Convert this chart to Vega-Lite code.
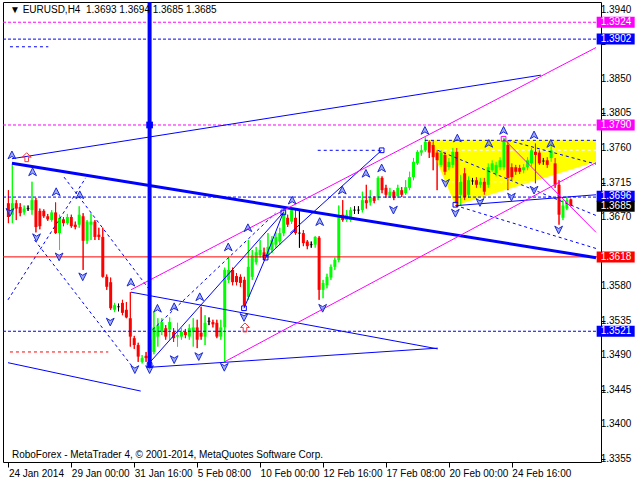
{
"$schema": "https://vega.github.io/schema/vega-lite/v6.json",
"width": 598, "height": 460,
"padding": {"left": 3, "top": 2, "right": 39, "bottom": 18},
"autosize": {"type": "none"},
"background": "white",
"config": {"view": {"stroke": "black", "strokeWidth": 1}, "font": "Liberation Sans"},
"datasets": {
"candles": [
{"i":0,"o":1.3688,"h":1.3705,"l":1.3662,"c":1.3670},{"i":1,"o":1.3673,"h":1.3738,"l":1.3662,"c":1.3688},{"i":2,"o":1.3688,"h":1.3692,"l":1.3666,"c":1.3681},{"i":3,"o":1.3683,"h":1.3688,"l":1.3671,"c":1.3675},{"i":4,"o":1.3676,"h":1.3685,"l":1.3673,"c":1.3681},{"i":5,"o":1.3681,"h":1.3685,"l":1.3678,"c":1.3681},{"i":6,"o":1.3679,"h":1.3716,"l":1.3673,"c":1.3692},{"i":7,"o":1.3692,"h":1.3695,"l":1.3650,"c":1.3657},{"i":8,"o":1.3678,"h":1.3681,"l":1.3654,"c":1.3658},{"i":9,"o":1.3678,"h":1.3680,"l":1.3669,"c":1.3671},
{"i":10,"o":1.3671,"h":1.3674,"l":1.3665,"c":1.3667},{"i":11,"o":1.3666,"h":1.3679,"l":1.3664,"c":1.3676},{"i":12,"o":1.3676,"h":1.3689,"l":1.3648,"c":1.3649},{"i":13,"o":1.3649,"h":1.3673,"l":1.3627,"c":1.3669},{"i":14,"o":1.3667,"h":1.3670,"l":1.3658,"c":1.3662},{"i":15,"o":1.3662,"h":1.3674,"l":1.3660,"c":1.3670},{"i":16,"o":1.3670,"h":1.3673,"l":1.3656,"c":1.3658},{"i":17,"o":1.3660,"h":1.3664,"l":1.3654,"c":1.3657},{"i":18,"o":1.3660,"h":1.3684,"l":1.3656,"c":1.3673},{"i":19,"o":1.3671,"h":1.3675,"l":1.3601,"c":1.3639},
{"i":20,"o":1.3639,"h":1.3666,"l":1.3635,"c":1.3664},{"i":21,"o":1.3660,"h":1.3675,"l":1.3640,"c":1.3664},{"i":22,"o":1.3664,"h":1.3666,"l":1.3640,"c":1.3644},{"i":23,"o":1.3647,"h":1.3656,"l":1.3640,"c":1.3644},{"i":24,"o":1.3644,"h":1.3656,"l":1.3591,"c":1.3592},{"i":25,"o":1.3592,"h":1.3595,"l":1.3575,"c":1.3579},{"i":26,"o":1.3585,"h":1.3591,"l":1.3549,"c":1.3551},{"i":27,"o":1.3549,"h":1.3558,"l":1.3546,"c":1.3555},{"i":28,"o":1.3553,"h":1.3557,"l":1.3547,"c":1.3553},{"i":29,"o":1.3558,"h":1.3562,"l":1.3542,"c":1.3545},
{"i":30,"o":1.3549,"h":1.3559,"l":1.3538,"c":1.3539},{"i":31,"o":1.3538,"h":1.3572,"l":1.3501,"c":1.3514},{"i":32,"o":1.3512,"h":1.3515,"l":1.3498,"c":1.3503},{"i":33,"o":1.3503,"h":1.3506,"l":1.3481,"c":1.3488},{"i":34,"o":1.3481,"h":1.3490,"l":1.3479,"c":1.3486},{"i":35,"o":1.3489,"h":1.3494,"l":1.3481,"c":1.3486},{"i":36,"o":1.3480,"h":1.3512,"l":1.3476,"c":1.3510},{"i":37,"o":1.3494,"h":1.3546,"l":1.3491,"c":1.3526},{"i":38,"o":1.3514,"h":1.3538,"l":1.3501,"c":1.3529},{"i":39,"o":1.3520,"h":1.3538,"l":1.3516,"c":1.3533},
{"i":40,"o":1.3525,"h":1.3529,"l":1.3510,"c":1.3514},{"i":41,"o":1.3523,"h":1.3539,"l":1.3510,"c":1.3533},{"i":42,"o":1.3520,"h":1.3525,"l":1.3507,"c":1.3512},{"i":43,"o":1.3514,"h":1.3532,"l":1.3501,"c":1.3516},{"i":44,"o":1.3514,"h":1.3525,"l":1.3510,"c":1.3520},{"i":45,"o":1.3520,"h":1.3524,"l":1.3512,"c":1.3516},{"i":46,"o":1.3514,"h":1.3530,"l":1.3510,"c":1.3525},{"i":47,"o":1.3520,"h":1.3538,"l":1.3501,"c":1.3526},{"i":48,"o":1.3526,"h":1.3536,"l":1.3499,"c":1.3510},{"i":49,"o":1.3519,"h":1.3553,"l":1.3510,"c":1.3514},
{"i":50,"o":1.3514,"h":1.3542,"l":1.3503,"c":1.3532},{"i":51,"o":1.3534,"h":1.3539,"l":1.3529,"c":1.3534},{"i":52,"o":1.3533,"h":1.3536,"l":1.3526,"c":1.3530},{"i":53,"o":1.3532,"h":1.3536,"l":1.3512,"c":1.3514},{"i":54,"o":1.3514,"h":1.3536,"l":1.3510,"c":1.3526},{"i":55,"o":1.3526,"h":1.3604,"l":1.3481,"c":1.3601},{"i":56,"o":1.3588,"h":1.3617,"l":1.3584,"c":1.3601},{"i":57,"o":1.3601,"h":1.3604,"l":1.3581,"c":1.3585},{"i":58,"o":1.3593,"h":1.3597,"l":1.3581,"c":1.3585},{"i":59,"o":1.3592,"h":1.3595,"l":1.3579,"c":1.3584},
{"i":60,"o":1.3588,"h":1.3592,"l":1.3553,"c":1.3555},{"i":61,"o":1.3566,"h":1.3640,"l":1.3562,"c":1.3605},{"i":62,"o":1.3592,"h":1.3627,"l":1.3588,"c":1.3620},{"i":63,"o":1.3611,"h":1.3631,"l":1.3608,"c":1.3624},{"i":64,"o":1.3620,"h":1.3640,"l":1.3617,"c":1.3627},{"i":65,"o":1.3624,"h":1.3630,"l":1.3614,"c":1.3617},{"i":66,"o":1.3620,"h":1.3649,"l":1.3617,"c":1.3631},{"i":67,"o":1.3627,"h":1.3645,"l":1.3623,"c":1.3640},{"i":68,"o":1.3634,"h":1.3650,"l":1.3630,"c":1.3644},{"i":69,"o":1.3638,"h":1.3656,"l":1.3634,"c":1.3649},
{"i":70,"o":1.3649,"h":1.3681,"l":1.3645,"c":1.3675},{"i":71,"o":1.3669,"h":1.3673,"l":1.3657,"c":1.3660},{"i":72,"o":1.3664,"h":1.3681,"l":1.3661,"c":1.3679},{"i":73,"o":1.3669,"h":1.3679,"l":1.3647,"c":1.3649},{"i":74,"o":1.3649,"h":1.3679,"l":1.3630,"c":1.3649},{"i":75,"o":1.3649,"h":1.3653,"l":1.3632,"c":1.3636},{"i":76,"o":1.3638,"h":1.3640,"l":1.3628,"c":1.3632},{"i":77,"o":1.3634,"h":1.3638,"l":1.3630,"c":1.3634},{"i":78,"o":1.3634,"h":1.3645,"l":1.3630,"c":1.3644},{"i":79,"o":1.3643,"h":1.3645,"l":1.3562,"c":1.3575},
{"i":80,"o":1.3575,"h":1.3588,"l":1.3564,"c":1.3584},{"i":81,"o":1.3581,"h":1.3596,"l":1.3577,"c":1.3592},{"i":82,"o":1.3591,"h":1.3608,"l":1.3588,"c":1.3605},{"i":83,"o":1.3605,"h":1.3617,"l":1.3601,"c":1.3614},{"i":84,"o":1.3614,"h":1.3685,"l":1.3611,"c":1.3670},{"i":85,"o":1.3673,"h":1.3692,"l":1.3664,"c":1.3666},{"i":86,"o":1.3666,"h":1.3679,"l":1.3664,"c":1.3673},{"i":87,"o":1.3666,"h":1.3683,"l":1.3664,"c":1.3679},{"i":88,"o":1.3679,"h":1.3684,"l":1.3674,"c":1.3679},{"i":89,"o":1.3679,"h":1.3684,"l":1.3674,"c":1.3679},
{"i":90,"o":1.3679,"h":1.3703,"l":1.3676,"c":1.3692},{"i":91,"o":1.3692,"h":1.3712,"l":1.3681,"c":1.3688},{"i":92,"o":1.3689,"h":1.3705,"l":1.3685,"c":1.3696},{"i":93,"o":1.3695,"h":1.3697,"l":1.3688,"c":1.3691},{"i":94,"o":1.3695,"h":1.3723,"l":1.3692,"c":1.3721},{"i":95,"o":1.3721,"h":1.3723,"l":1.3701,"c":1.3705},{"i":96,"o":1.3708,"h":1.3712,"l":1.3695,"c":1.3699},{"i":97,"o":1.3697,"h":1.3708,"l":1.3695,"c":1.3703},{"i":98,"o":1.3703,"h":1.3705,"l":1.3692,"c":1.3695},{"i":99,"o":1.3697,"h":1.3712,"l":1.3695,"c":1.3708},
{"i":100,"o":1.3705,"h":1.3709,"l":1.3696,"c":1.3699},{"i":101,"o":1.3701,"h":1.3718,"l":1.3699,"c":1.3709},{"i":102,"o":1.3708,"h":1.3729,"l":1.3705,"c":1.3722},{"i":103,"o":1.3722,"h":1.3747,"l":1.3718,"c":1.3742},{"i":104,"o":1.3740,"h":1.3757,"l":1.3738,"c":1.3755},{"i":105,"o":1.3754,"h":1.3764,"l":1.3750,"c":1.3757},{"i":106,"o":1.3757,"h":1.3774,"l":1.3755,"c":1.3768},{"i":107,"o":1.3768,"h":1.3770,"l":1.3747,"c":1.3754},{"i":108,"o":1.3764,"h":1.3770,"l":1.3731,"c":1.3748},{"i":109,"o":1.3754,"h":1.3757,"l":1.3705,"c":1.3744},
{"i":110,"o":1.3738,"h":1.3757,"l":1.3735,"c":1.3754},{"i":111,"o":1.3751,"h":1.3755,"l":1.3725,"c":1.3729},{"i":112,"o":1.3735,"h":1.3747,"l":1.3731,"c":1.3742},{"i":113,"o":1.3738,"h":1.3760,"l":1.3734,"c":1.3755},{"i":114,"o":1.3755,"h":1.3760,"l":1.3683,"c":1.3688},{"i":115,"o":1.3699,"h":1.3725,"l":1.3685,"c":1.3716},{"i":116,"o":1.3727,"h":1.3734,"l":1.3692,"c":1.3696},{"i":117,"o":1.3699,"h":1.3723,"l":1.3695,"c":1.3718},{"i":118,"o":1.3717,"h":1.3721,"l":1.3712,"c":1.3717},{"i":119,"o":1.3718,"h":1.3722,"l":1.3708,"c":1.3712},
{"i":120,"o":1.3712,"h":1.3721,"l":1.3708,"c":1.3716},{"i":121,"o":1.3716,"h":1.3721,"l":1.3699,"c":1.3703},{"i":122,"o":1.3712,"h":1.3740,"l":1.3708,"c":1.3735},{"i":123,"o":1.3731,"h":1.3744,"l":1.3729,"c":1.3740},{"i":124,"o":1.3727,"h":1.3742,"l":1.3723,"c":1.3738},{"i":125,"o":1.3735,"h":1.3748,"l":1.3731,"c":1.3744},{"i":126,"o":1.3735,"h":1.3773,"l":1.3731,"c":1.3770},{"i":127,"o":1.3764,"h":1.3770,"l":1.3705,"c":1.3721},{"i":128,"o":1.3735,"h":1.3740,"l":1.3718,"c":1.3722},{"i":129,"o":1.3735,"h":1.3738,"l":1.3725,"c":1.3729},
{"i":130,"o":1.3734,"h":1.3738,"l":1.3726,"c":1.3729},{"i":131,"o":1.3731,"h":1.3739,"l":1.3727,"c":1.3735},{"i":132,"o":1.3735,"h":1.3748,"l":1.3731,"c":1.3744},{"i":133,"o":1.3740,"h":1.3760,"l":1.3736,"c":1.3757},{"i":134,"o":1.3755,"h":1.3766,"l":1.3714,"c":1.3751},{"i":135,"o":1.3754,"h":1.3757,"l":1.3738,"c":1.3740},{"i":136,"o":1.3743,"h":1.3747,"l":1.3738,"c":1.3743},{"i":137,"o":1.3744,"h":1.3748,"l":1.3734,"c":1.3738},{"i":138,"o":1.3747,"h":1.3766,"l":1.3742,"c":1.3757},{"i":139,"o":1.3740,"h":1.3747,"l":1.3708,"c":1.3712},
{"i":140,"o":1.3712,"h":1.3718,"l":1.3660,"c":1.3673},{"i":141,"o":1.3669,"h":1.3692,"l":1.3666,"c":1.3685},{"i":142,"o":1.3681,"h":1.3695,"l":1.3679,"c":1.3692},{"i":143,"o":1.3693,"h":1.3694,"l":1.3685,"c":1.3685}
],
"yellow": [{"i":106.65,"top":1.3770,"bot":1.3770},{"i":113.65,"top":1.3770,"bot":1.3685},{"i":149.4,"top":1.3770,"bot":1.3742}],
"whiteDash": [{"g":1,"i":109.15,"p":1.3757},{"g":1,"i":149.4,"p":1.3757},{"g":2,"i":111.15,"p":1.3716},{"g":2,"i":134.65,"p":1.3716}],
"magentaLevels": [{"p":1.3924},{"p":1.3790}],
"blueLevels": [{"p":1.3902},{"p":1.3696},{"p":1.3521}],
"redLevels": [{"p":1.3618}],
"thickBlue": [{"g":1,"i":0.9,"p":1.3740},{"g":1,"i":149.4,"p":1.3617}],
"blueSolid": [
{"g":1,"i":0.9,"p":1.3746},{"g":1,"i":135.4,"p":1.3855},
{"g":2,"i":-0.1,"p":1.3480},{"g":2,"i":33.65,"p":1.3443},
{"g":3,"i":31.15,"p":1.3572},{"g":3,"i":109.15,"p":1.3498},
{"g":4,"i":35.9,"p":1.3474},{"g":4,"i":109.15,"p":1.3499},
{"g":5,"i":35.9,"p":1.3480},{"g":5,"i":69.9,"p":1.3676},
{"g":6,"i":59.9,"p":1.3551},{"g":6,"i":65.4,"p":1.3617},{"g":6,"i":69.9,"p":1.3676},
{"g":7,"i":65.4,"p":1.3617},{"g":7,"i":72.9,"p":1.3653},
{"g":8,"i":71.65,"p":1.3649},{"g":8,"i":94.9,"p":1.3757},
{"g":9,"i":114.15,"p":1.3685},{"g":9,"i":149.4,"p":1.3699}
],
"blueDash": [
{"g":1,"i":0.4,"p":1.3892},{"g":1,"i":10.15,"p":1.3892},
{"g":2,"i":78.65,"p":1.3757},{"g":2,"i":95.4,"p":1.3757},
{"g":3,"i":105.9,"p":1.3770},{"g":3,"i":149.4,"p":1.3770},
{"g":4,"i":-0.1,"p":1.3562},{"g":4,"i":19.65,"p":1.3721},
{"g":5,"i":14.15,"p":1.3722},{"g":5,"i":35.9,"p":1.3575},
{"g":6,"i":6.65,"p":1.3640},{"g":6,"i":31.65,"p":1.3474},
{"g":7,"i":36.65,"p":1.3523},{"g":7,"i":67.9,"p":1.3675},
{"g":8,"i":109.15,"p":1.3757},{"g":8,"i":149.4,"p":1.3672},
{"g":9,"i":113.65,"p":1.3685},{"g":9,"i":149.4,"p":1.3629},
{"g":10,"i":127,"p":1.3770},{"g":10,"i":149.4,"p":1.3739}
],
"magentaSolid": [
{"g":1,"i":31.15,"p":1.3575},{"g":1,"i":149.4,"p":1.3891},
{"g":2,"i":54.9,"p":1.3481},{"g":2,"i":149.4,"p":1.3741},
{"g":3,"i":125.9,"p":1.3772},{"g":3,"i":149.4,"p":1.3650}
],
"redDash": [{"g":1,"i":0.4,"p":1.3494},{"g":1,"i":25.4,"p":1.3494}],
"vline": [{"i":35.9,"top":1.3950,"bottom":1.3474}],
"arrows": [
{"i":0.9,"p":1.3751,"d":"up"},{"i":6.15,"p":1.3729,"d":"up"},{"i":12.15,"p":1.3703,"d":"up"},{"i":18.15,"p":1.3699,"d":"up"},{"i":31.15,"p":1.3585,"d":"up"},{"i":37.9,"p":1.3551,"d":"up"},{"i":42.15,"p":1.3553,"d":"up"},{"i":48.65,"p":1.3566,"d":"up"},{"i":55.9,"p":1.3631,"d":"up"},{"i":60.9,"p":1.3656,"d":"up"},{"i":72.15,"p":1.3692,"d":"up"},{"i":79.15,"p":1.3664,"d":"up"},{"i":84.9,"p":1.3705,"d":"up"},{"i":90.9,"p":1.3727,"d":"up"},{"i":94.9,"p":1.3734,"d":"up"},{"i":105.9,"p":1.3783,"d":"up"},{"i":114.15,"p":1.3773,"d":"up"},{"i":122.15,"p":1.3766,"d":"up"},{"i":125.9,"p":1.3783,"d":"up"},{"i":133.65,"p":1.3777,"d":"up"},{"i":137.9,"p":1.3766,"d":"up"},
{"i":0.4,"p":1.3676,"d":"down"},{"i":7.15,"p":1.3643,"d":"down"},{"i":12.9,"p":1.3618,"d":"down"},{"i":18.9,"p":1.3592,"d":"down"},{"i":25.9,"p":1.3533,"d":"down"},{"i":32.15,"p":1.3471,"d":"down"},{"i":35.9,"p":1.3471,"d":"down"},{"i":42.15,"p":1.3484,"d":"down"},{"i":48.4,"p":1.3488,"d":"down"},{"i":54.9,"p":1.3474,"d":"down"},{"i":59.9,"p":1.3539,"d":"down"},{"i":79.9,"p":1.3551,"d":"down"},{"i":97.9,"p":1.3679,"d":"down"},{"i":111.15,"p":1.3714,"d":"down"},{"i":113.65,"p":1.3675,"d":"down"},{"i":119.9,"p":1.3689,"d":"down"},{"i":127.9,"p":1.3696,"d":"down"},{"i":133.65,"p":1.3705,"d":"down"},{"i":139.9,"p":1.3653,"d":"down"}
],
"redArrows": [{"i":4.65,"p":1.3748},{"i":60.15,"p":1.3526}],
"blueSquares": [{"i":35.9,"p":1.3477},{"i":59.9,"p":1.3551},{"i":65.4,"p":1.3617},{"i":69.9,"p":1.3676},{"i":94.9,"p":1.3757},{"i":113.65,"p":1.3686}],
"magentaSquares": [{"i":125.9,"p":1.3772}],
"vlineMarker": [{"i":35.9,"p":1.3790}],
"header": [{"i":0.4,"p":1.3940,"t":"▼ EURUSD,H4\u00a0\u00a01.3693 1.3694 1.3685 1.3685"}],
"footer": [{"i":0.9,"p":1.3360,"t":"RoboForex - MetaTrader 4, © 2001-2014, MetaQuotes Software Corp."}],
"ylabels": [{"i":150.6,"p":1.3355,"t":"1.3355"},{"i":150.6,"p":1.3400,"t":"1.3400"},{"i":150.6,"p":1.3445,"t":"1.3445"},{"i":150.6,"p":1.3490,"t":"1.3490"},{"i":150.6,"p":1.3535,"t":"1.3535"},{"i":150.6,"p":1.3580,"t":"1.3580"},{"i":150.6,"p":1.3670,"t":"1.3670"},{"i":150.6,"p":1.3715,"t":"1.3715"},{"i":150.6,"p":1.3760,"t":"1.3760"},{"i":150.6,"p":1.3805,"t":"1.3805"},{"i":150.6,"p":1.3850,"t":"1.3850"},{"i":150.6,"p":1.3940,"t":"1.3940"}],
"boxes": [{"i":154.4,"ti":150.6,"p":1.3924,"t":"1.3924","k":"target"},{"i":154.4,"ti":150.6,"p":1.3902,"t":"1.3902","k":"level"},{"i":154.4,"ti":150.6,"p":1.3790,"t":"1.3790","k":"target"},{"i":154.4,"ti":150.6,"p":1.3697,"t":"1.3696","k":"level"},{"i":154.4,"ti":150.6,"p":1.3684,"t":"1.3685","k":"bid"},{"i":154.4,"ti":150.6,"p":1.3618,"t":"1.3618","k":"support"},{"i":154.4,"ti":150.6,"p":1.3521,"t":"1.3521","k":"level"}]
},
"layer": [
{"data": {"name": "candles"}, "mark": {"type": "rule", "strokeWidth": 1, "clip": true},
 "encoding": {
  "x": {"field": "i", "type": "quantitative", "scale": {"domain": [-0.1, 149.4], "nice": false, "zero": false},
   "axis": {"orient": "bottom", "values": [0, 16, 32, 48, 64, 80, 96, 112, 128],
    "labelExpr": "['24 Jan 2014','29 Jan 00:00','31 Jan 16:00','5 Feb 08:00','10 Feb 00:00','12 Feb 16:00','17 Feb 08:00','20 Feb 00:00','24 Feb 16:00'][round(datum.value/16)]",
    "labelAlign": "left", "labelBaseline": "top", "labelPadding": 1, "tickSize": 5, "tickColor": "#000000", "labelColor": "#000000", "labelFont": "Liberation Sans", "labelFontSize": 10, "domain": false, "grid": false, "labelFlush": false, "labelOverlap": false, "title": null}},
  "y": {"field": "l", "type": "quantitative", "scale": {"domain": [1.33505, 1.39504], "nice": false, "zero": false},
   "axis": {"orient": "right", "values": [1.3355, 1.3400, 1.3445, 1.3490, 1.3535, 1.3580, 1.3625, 1.3670, 1.3715, 1.3760, 1.3805, 1.3850, 1.3895, 1.3940], "labels": false, "tickSize": 4, "tickColor": "#000000", "domain": false, "grid": false, "title": null}},
  "y2": {"field": "h"},
  "color": {"condition": [{"test": "datum.c > datum.o", "value": "#00ff00"}, {"test": "datum.c == datum.o", "value": "#000000"}], "value": "#ff0000"}
 }},
{"data": {"name": "yellow"}, "mark": {"type": "area", "color": "#ffff00", "opacity": 1, "clip": true},
 "encoding": {"x": {"field": "i", "type": "quantitative"}, "y": {"field": "top", "type": "quantitative"}, "y2": {"field": "bot"}}},
{"data": {"name": "whiteDash"}, "mark": {"type": "line", "color": "#ffffff", "strokeWidth": 1, "strokeDash": [3, 3], "clip": true},
 "encoding": {"x": {"field": "i", "type": "quantitative"}, "y": {"field": "p", "type": "quantitative"}, "detail": {"field": "g"}}},
{"data": {"name": "candles"}, "mark": {"type": "rule", "strokeWidth": 1, "clip": true},
 "encoding": {"x": {"field": "i", "type": "quantitative"}, "y": {"field": "l", "type": "quantitative"}, "y2": {"field": "h"},
  "color": {"condition": [{"test": "datum.c > datum.o", "value": "#00ff00"}, {"test": "datum.c == datum.o", "value": "#000000"}], "value": "#ff0000"}}},
{"data": {"name": "candles"}, "mark": {"type": "bar", "width": 3, "clip": true},
 "encoding": {"x": {"field": "i", "type": "quantitative"}, "y": {"field": "o", "type": "quantitative"}, "y2": {"field": "c"},
  "color": {"condition": [{"test": "datum.c > datum.o", "value": "#00ff00"}, {"test": "datum.c == datum.o", "value": "#000000"}], "value": "#ff0000"}}},
{"data": {"name": "candles"}, "transform": [{"filter": "datum.c == datum.o"}], "mark": {"type": "tick", "orient": "horizontal", "size": 3, "thickness": 1, "color": "#000000"},
 "encoding": {"x": {"field": "i", "type": "quantitative"}, "y": {"field": "o", "type": "quantitative"}}},
{"data": {"name": "magentaLevels"}, "mark": {"type": "rule", "color": "#ff00ff", "strokeWidth": 1, "strokeDash": [3, 2]},
 "encoding": {"y": {"field": "p", "type": "quantitative"}}},
{"data": {"name": "blueLevels"}, "mark": {"type": "rule", "color": "#0000ff", "strokeWidth": 1, "strokeDash": [3, 2]},
 "encoding": {"y": {"field": "p", "type": "quantitative"}}},
{"data": {"name": "redLevels"}, "mark": {"type": "rule", "color": "#ff0000", "strokeWidth": 1},
 "encoding": {"y": {"field": "p", "type": "quantitative"}}},
{"data": {"name": "thickBlue"}, "mark": {"type": "line", "color": "#0000ff", "strokeWidth": 3, "clip": true},
 "encoding": {"x": {"field": "i", "type": "quantitative"}, "y": {"field": "p", "type": "quantitative"}, "detail": {"field": "g"}}},
{"data": {"name": "blueSolid"}, "mark": {"type": "line", "color": "#0000ff", "strokeWidth": 1, "clip": true},
 "encoding": {"x": {"field": "i", "type": "quantitative"}, "y": {"field": "p", "type": "quantitative"}, "detail": {"field": "g"}}},
{"data": {"name": "blueDash"}, "mark": {"type": "line", "color": "#0000ff", "strokeWidth": 1, "strokeDash": [3, 3], "clip": true},
 "encoding": {"x": {"field": "i", "type": "quantitative"}, "y": {"field": "p", "type": "quantitative"}, "detail": {"field": "g"}}},
{"data": {"name": "magentaSolid"}, "mark": {"type": "line", "color": "#ff00ff", "strokeWidth": 1, "clip": true},
 "encoding": {"x": {"field": "i", "type": "quantitative"}, "y": {"field": "p", "type": "quantitative"}, "detail": {"field": "g"}}},
{"data": {"name": "redDash"}, "mark": {"type": "line", "color": "#ff0000", "strokeWidth": 1, "strokeDash": [3, 3], "clip": true},
 "encoding": {"x": {"field": "i", "type": "quantitative"}, "y": {"field": "p", "type": "quantitative"}, "detail": {"field": "g"}}},
{"data": {"name": "vline"}, "mark": {"type": "rule", "color": "#0000ff", "strokeWidth": 4, "clip": true},
 "encoding": {"x": {"field": "i", "type": "quantitative"}, "y": {"field": "top", "type": "quantitative"}, "y2": {"field": "bottom"}}},
{"data": {"name": "vlineMarker"}, "mark": {"type": "point", "shape": "square", "filled": true, "color": "#0000ff", "size": 45, "opacity": 1},
 "encoding": {"x": {"field": "i", "type": "quantitative"}, "y": {"field": "p", "type": "quantitative"}}},
{"data": {"name": "arrows"}, "mark": {"type": "point", "filled": true, "fill": "#5566ff", "fillOpacity": 0.55, "stroke": "#1a2ad0", "strokeWidth": 1, "strokeOpacity": 1, "size": 60},
 "encoding": {"x": {"field": "i", "type": "quantitative"}, "y": {"field": "p", "type": "quantitative"},
  "shape": {"field": "d", "type": "nominal", "scale": {"domain": ["up", "down"], "range": ["M0,-1L1,1L0,0.4L-1,1Z", "M0,1L1,-1L0,-0.4L-1,-1Z"]}, "legend": null}}},
{"data": {"name": "redArrows"}, "mark": {"type": "point", "filled": false, "shape": "M0,-1L1,0L0.4,0L0.4,1L-0.4,1L-0.4,0L-1,0Z", "stroke": "#ff3030", "strokeWidth": 1, "size": 80, "opacity": 1},
 "encoding": {"x": {"field": "i", "type": "quantitative"}, "y": {"field": "p", "type": "quantitative"}}},
{"data": {"name": "blueSquares"}, "mark": {"type": "point", "shape": "square", "filled": false, "color": "#0000ff", "strokeWidth": 1, "size": 22, "opacity": 1},
 "encoding": {"x": {"field": "i", "type": "quantitative"}, "y": {"field": "p", "type": "quantitative"}}},
{"data": {"name": "magentaSquares"}, "mark": {"type": "point", "shape": "square", "filled": false, "color": "#ff00ff", "strokeWidth": 1, "size": 22, "opacity": 1},
 "encoding": {"x": {"field": "i", "type": "quantitative"}, "y": {"field": "p", "type": "quantitative"}}},
{"data": {"name": "header"}, "mark": {"type": "text", "align": "left", "baseline": "middle", "fontSize": 10, "font": "Liberation Sans", "color": "#000000"},
 "encoding": {"x": {"field": "i", "type": "quantitative"}, "y": {"field": "p", "type": "quantitative"}, "text": {"field": "t"}}},
{"data": {"name": "footer"}, "mark": {"type": "text", "align": "left", "baseline": "middle", "fontSize": 10, "font": "Liberation Sans", "color": "#000000"},
 "encoding": {"x": {"field": "i", "type": "quantitative"}, "y": {"field": "p", "type": "quantitative"}, "text": {"field": "t"}}},
{"data": {"name": "ylabels"}, "mark": {"type": "text", "align": "left", "baseline": "middle", "fontSize": 10, "font": "Liberation Sans", "color": "#000000", "clip": false},
 "encoding": {"x": {"field": "i", "type": "quantitative"}, "y": {"field": "p", "type": "quantitative"}, "text": {"field": "t"}}},
{"data": {"name": "boxes"}, "mark": {"type": "tick", "orient": "horizontal", "size": 38, "thickness": 11, "opacity": 1, "clip": false},
 "encoding": {"x": {"field": "i", "type": "quantitative"}, "y": {"field": "p", "type": "quantitative"},
  "color": {"field": "k", "type": "nominal", "scale": {"domain": ["target", "level", "bid", "support"], "range": ["#ff00ff", "#0000ff", "#000000", "#ff0000"]}, "legend": null}}},
{"data": {"name": "boxes"}, "mark": {"type": "text", "align": "left", "baseline": "middle", "fontSize": 10, "font": "Liberation Sans", "color": "#ffffff", "clip": false},
 "encoding": {"x": {"field": "ti", "type": "quantitative"}, "y": {"field": "p", "type": "quantitative"}, "text": {"field": "t"}}}
]
}
